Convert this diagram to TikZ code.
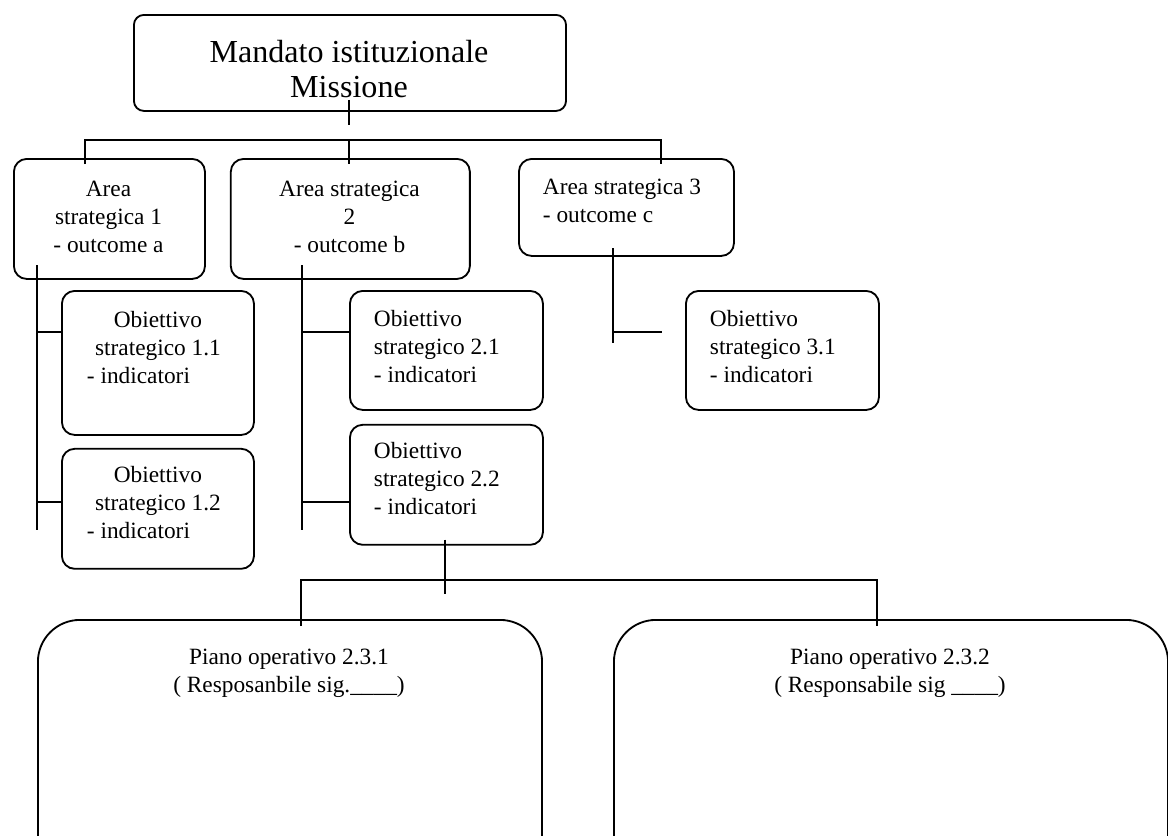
\documentclass[tikz,border=0pt]{standalone}
\usepackage{fontspec}
\setmainfont{Liberation Serif}
\usetikzlibrary{positioning}

\begin{document}
\begin{tikzpicture}[x=0.025cm,y=-0.025cm,line width=1.3pt,node distance=0.3cm]
  \tikzstyle{box}=[draw,rounded corners=0.32cm,inner sep=0pt,anchor=north west]
  \tikzstyle{txt}=[inner sep=0pt,anchor=base,font=\fontsize{16.6}{19.8}\selectfont]
  \clip (0,0) rectangle (1168,835);
  % livello 1
  \node[box,rounded corners=0.25cm,minimum width=10.8cm,minimum height=2.4cm] (mandato) at (133,14) {};
  \node[txt,align=center,font=\fontsize{22.8}{24.2}\selectfont] (mandato-t) at (349,97) {Mandato istituzionale\\Missione};
  % aree strategiche
  \node[box,minimum width=4.775cm,minimum height=3cm] (area1) at (13,158) {};
  \node[box,minimum width=5.975cm,minimum height=3cm,right=0.6cm of area1] (area2) {};
  \node[box,minimum width=5.375cm,minimum height=2.425cm] (area3) at (518,158) {};
  \node[txt,align=center] (area1-t) at (108.5,252) {Area\\strategica 1\\- outcome a};
  \node[txt,align=center] (area2-t) at (349.5,252) {Area strategica\\2\\- outcome b};
  \node[txt,align=left,anchor=base west] (area3-t) at (542,222) {Area strategica 3\\- outcome c};
  % obiettivi
  \node[box,minimum width=4.8cm,minimum height=3.6cm] (o11) at (61,290) {};
  \node[box,minimum width=4.8cm,minimum height=3cm,below=0.3cm of o11] (o12) {};
  \node[box,minimum width=4.825cm,minimum height=2.975cm] (o21) at (349,290) {};
  \node[box,minimum width=4.825cm,minimum height=3cm,below=0.325cm of o21] (o22) {};
  \node[box,minimum width=4.825cm,minimum height=2.975cm] (o31) at (685,290) {};
  \node[txt,align=left,anchor=base west] (o11-t) at (86,383) {\makebox[3.55cm]{Obiettivo}\\\makebox[3.55cm]{strategico 1.1}\\- indicatori};
  \node[txt,align=left,anchor=base west] (o12-t) at (86,538) {\makebox[3.55cm]{Obiettivo}\\\makebox[3.55cm]{strategico 1.2}\\- indicatori};
  \node[txt,align=left,anchor=base west] (o21-t) at (373,382) {Obiettivo\\strategico 2.1\\- indicatori};
  \node[txt,align=left,anchor=base west] (o22-t) at (373,514) {Obiettivo\\strategico 2.2\\- indicatori};
  \node[txt,align=left,anchor=base west] (o31-t) at (709,382) {Obiettivo\\strategico 3.1\\- indicatori};
  % piani operativi
  \node[box,rounded corners=1.05cm,minimum width=12.6cm,minimum height=7cm] (piano1) at (37,619) {};
  \node[box,rounded corners=1.05cm,minimum width=13.85cm,minimum height=7cm] (piano2) at (613,619) {};
  \node[txt,align=center] (piano1-t) at (289,692) {Piano operativo 2.3.1\\( Resposanbile sig.\_\_\_\_)};
  \node[txt,align=center] (piano2-t) at (890,692) {Piano operativo 2.3.2\\( Responsabile sig \_\_\_\_)};
  % collegamenti
  \coordinate (bus) at (349,140);
  \coordinate (a1-in) at (85,164);
  \coordinate (a3-in) at (661,164);
  \draw ([yshift=0.3cm]mandato.south -| bus) -- ++(0,25);
  \draw (a1-in) |- (bus) -| (a3-in);
  \draw (bus) -- ([yshift=-0.15cm]bus |- area2.north);
  \coordinate (j11) at (37,332);
  \coordinate (j12) at (37,502);
  \draw (37,265) -- (37,530);
  \draw (j11) -- (j11 -| o11.west);
  \draw (j12) -- (j12 -| o12.west);
  \coordinate (j21) at (302,332);
  \coordinate (j22) at (302,502);
  \draw (302,265) -- (302,530);
  \draw (j21) -- (j21 -| o21.west);
  \draw (j22) -- (j22 -| o22.west);
  \coordinate (j31) at (613,332);
  \draw (613,248) -- (613,343);
  \draw (j31) -- (662,332);
  \coordinate (bus2) at (445,580);
  \coordinate (p1-in) at (301,626);
  \coordinate (p2-in) at (877,626);
  \draw ([yshift=0.15cm]o22.south -| bus2) -- ++(0,54);
  \draw (p1-in) |- (bus2) -| (p2-in);
\end{tikzpicture}
\end{document}
